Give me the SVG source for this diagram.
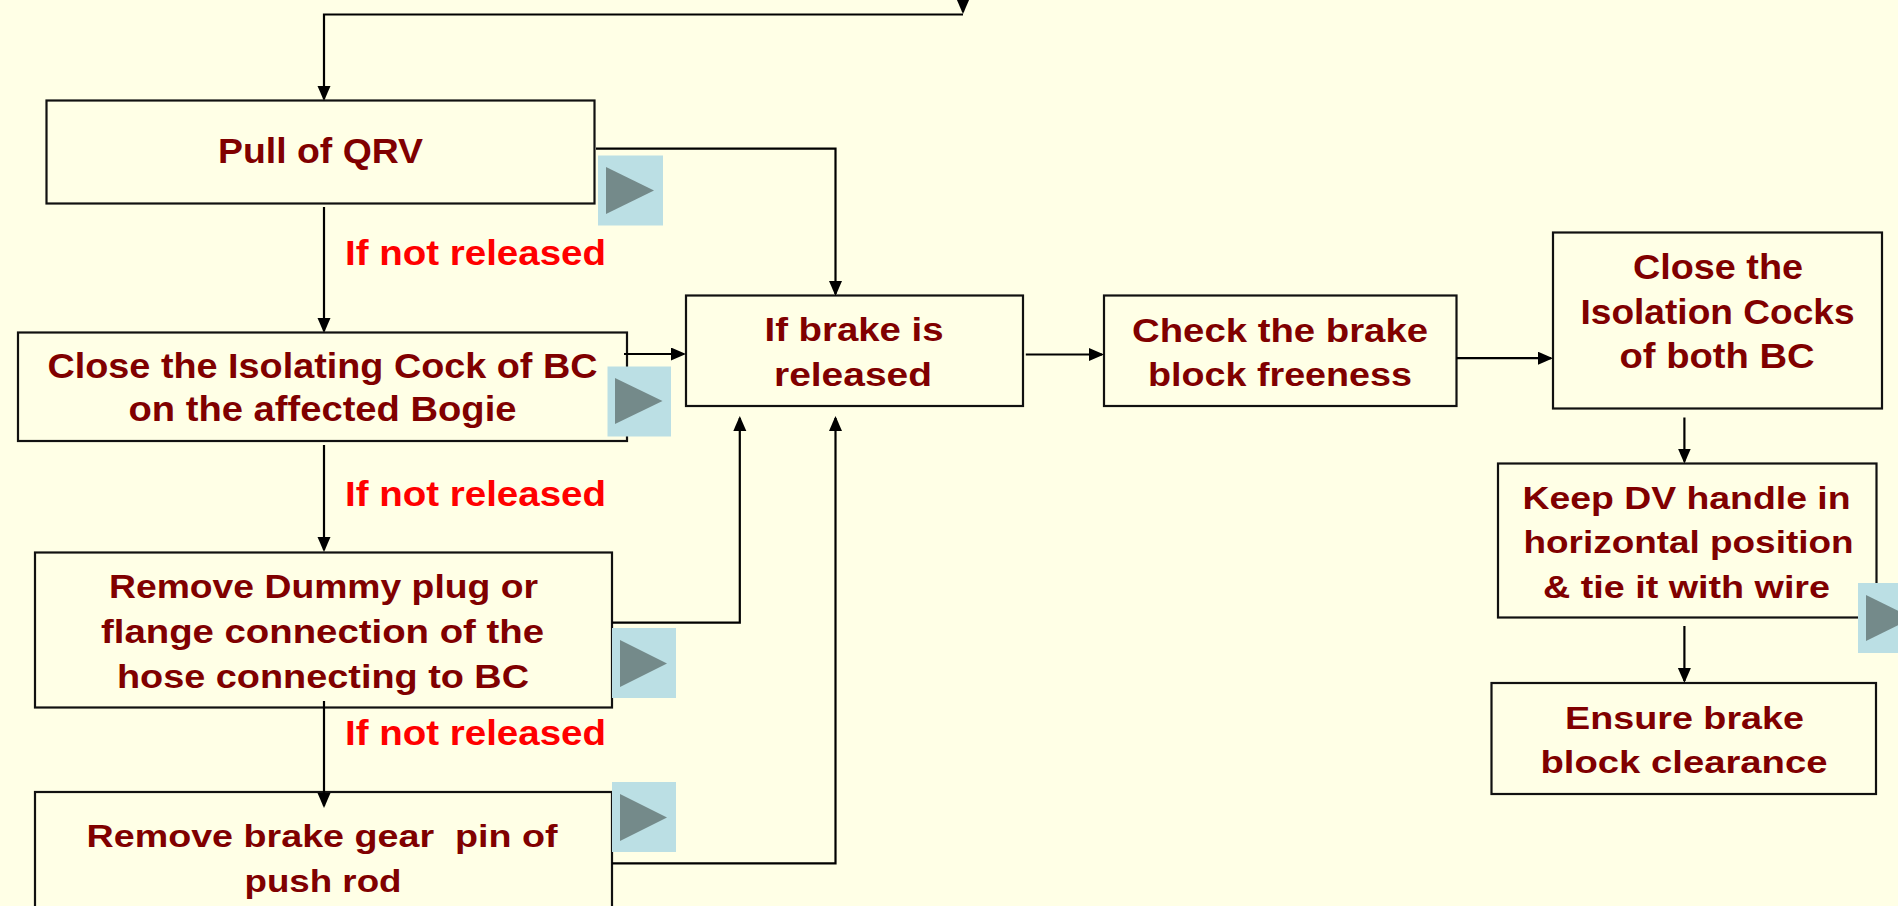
<svg xmlns="http://www.w3.org/2000/svg" width="1898" height="906" viewBox="0 0 1898 906">
<defs>
<style>
.box{fill:#FFFFE6;stroke:#111;stroke-width:2.2}
.t{font-family:"Liberation Sans",Arial,sans-serif;font-weight:bold;fill:#800000}
.lbl{font-family:"Liberation Sans",Arial,sans-serif;font-weight:bold;fill:#FF0000;font-size:35px}
.btn{fill:#BBDFE4}
.tri{fill:#748A8A}
.c{fill:none;stroke:#000;stroke-width:2.2}
</style>
<marker id="ah" markerUnits="userSpaceOnUse" markerWidth="16" markerHeight="14" refX="13" refY="6.5" orient="auto">
<path d="M0,0 L15,6.5 L0,13 z" fill="#000"/>
</marker>
</defs>
<rect x="0" y="0" width="1898" height="906" fill="#FFFFE6"/>

<g id="n1">
<rect class="box" x="46.5" y="100.5" width="548" height="103"/>
<text class="t" font-size="35" x="218" y="162.7" textLength="205" lengthAdjust="spacingAndGlyphs">Pull of QRV</text>
</g>
<g id="n2">
<rect class="box" x="18" y="332.5" width="609" height="108.5"/>
<text class="t" font-size="35" x="47.5" y="377.5" textLength="550" lengthAdjust="spacingAndGlyphs">Close the Isolating Cock of BC</text>
<text class="t" font-size="35" x="128.5" y="421" textLength="388" lengthAdjust="spacingAndGlyphs">on the affected Bogie</text>
</g>
<g id="n3">
<rect class="box" x="686" y="295.5" width="337" height="110.5"/>
<text class="t" font-size="34" x="764.5" y="340.7" textLength="179" lengthAdjust="spacingAndGlyphs">If brake is</text>
<text class="t" font-size="34" x="774" y="386" textLength="158" lengthAdjust="spacingAndGlyphs">released</text>
</g>
<g id="n4">
<rect class="box" x="1104" y="295.5" width="352.5" height="110.5"/>
<text class="t" font-size="34" x="1132" y="341.6" textLength="296" lengthAdjust="spacingAndGlyphs">Check the brake</text>
<text class="t" font-size="34" x="1148" y="385.8" textLength="264" lengthAdjust="spacingAndGlyphs">block freeness</text>
</g>
<g id="n5">
<rect class="box" x="1553" y="232.5" width="329" height="176"/>
<text class="t" font-size="35" x="1633" y="279" textLength="170" lengthAdjust="spacingAndGlyphs">Close the</text>
<text class="t" font-size="35" x="1580.5" y="323.8" textLength="274" lengthAdjust="spacingAndGlyphs">Isolation Cocks</text>
<text class="t" font-size="35" x="1619.5" y="368" textLength="195" lengthAdjust="spacingAndGlyphs">of both BC</text>
</g>
<g id="n6">
<rect class="box" x="1498" y="463.5" width="378.5" height="154"/>
<text class="t" font-size="32" x="1522.5" y="508.7" textLength="328" lengthAdjust="spacingAndGlyphs">Keep DV handle in</text>
<text class="t" font-size="32" x="1523.5" y="553.3" textLength="330" lengthAdjust="spacingAndGlyphs">horizontal position</text>
<text class="t" font-size="32" x="1543" y="597.7" textLength="287" lengthAdjust="spacingAndGlyphs">&amp; tie it with wire</text>
</g>
<g id="n7">
<rect class="box" x="1491.5" y="683" width="384.5" height="111"/>
<text class="t" font-size="32" x="1565" y="728.7" textLength="239" lengthAdjust="spacingAndGlyphs">Ensure brake</text>
<text class="t" font-size="32" x="1540.5" y="773.3" textLength="287" lengthAdjust="spacingAndGlyphs">block clearance</text>
</g>
<g id="n8">
<rect class="box" x="35" y="552.5" width="577" height="155"/>
<text class="t" font-size="33" x="109" y="597.7" textLength="429" lengthAdjust="spacingAndGlyphs">Remove Dummy plug or</text>
<text class="t" font-size="33" x="101" y="642.7" textLength="443" lengthAdjust="spacingAndGlyphs">flange connection of the</text>
<text class="t" font-size="33" x="117" y="687.7" textLength="412" lengthAdjust="spacingAndGlyphs">hose connecting to BC</text>
</g>
<g id="n9">
<rect class="box" x="35" y="792" width="577" height="140"/>
<text class="t" font-size="32" x="86.5" y="846.7" textLength="471" lengthAdjust="spacingAndGlyphs" xml:space="preserve">Remove brake gear  pin of</text>
<text class="t" font-size="32" x="244.5" y="891.7" textLength="157" lengthAdjust="spacingAndGlyphs">push rod</text>
</g>

<g id="connectors">
<path class="c" d="M963,-30 V12" marker-end="url(#ah)"/>
<path class="c" d="M963,14.5 H324 V99" marker-end="url(#ah)"/>
<path class="c" d="M324,207 V331" marker-end="url(#ah)"/>
<path class="c" d="M596,148.7 H835.5 V294" marker-end="url(#ah)"/>
<path class="c" d="M624,354 H684" marker-end="url(#ah)"/>
<path class="c" d="M324,445 V550" marker-end="url(#ah)"/>
<path class="c" d="M612,622.7 H739.8 V418" marker-end="url(#ah)"/>
<path class="c" d="M324,701 V806" marker-end="url(#ah)"/>
<path class="c" d="M612,863.3 H835.5 V418" marker-end="url(#ah)"/>
<path class="c" d="M1025.8,354.5 H1102" marker-end="url(#ah)"/>
<path class="c" d="M1456.5,358.2 H1551" marker-end="url(#ah)"/>
<path class="c" d="M1684.4,417.5 V461.5" marker-end="url(#ah)"/>
<path class="c" d="M1684.4,626 V681" marker-end="url(#ah)"/>
</g>

<g id="labels">
<text class="lbl" x="345" y="265" textLength="261" lengthAdjust="spacingAndGlyphs">If not released</text>
<text class="lbl" x="345" y="505.5" textLength="261" lengthAdjust="spacingAndGlyphs">If not released</text>
<text class="lbl" x="345" y="745" textLength="261" lengthAdjust="spacingAndGlyphs">If not released</text>
</g>

<g id="buttons">
<rect class="btn" x="598" y="155.5" width="65" height="70"/>
<polygon class="tri" points="606,167 654,190.5 606,214"/>
<rect class="btn" x="607.5" y="366.5" width="63.5" height="70"/>
<polygon class="tri" points="615,378 662.5,401 615,424"/>
<rect class="btn" x="612" y="628" width="64" height="70"/>
<polygon class="tri" points="620,640 667,663.5 620,687"/>
<rect class="btn" x="612" y="782" width="64" height="70"/>
<polygon class="tri" points="620,794 667,817.5 620,841"/>
<rect class="btn" x="1858" y="583" width="64" height="70"/>
<polygon class="tri" points="1866,595 1913,618 1866,641"/>
</g>
</svg>
